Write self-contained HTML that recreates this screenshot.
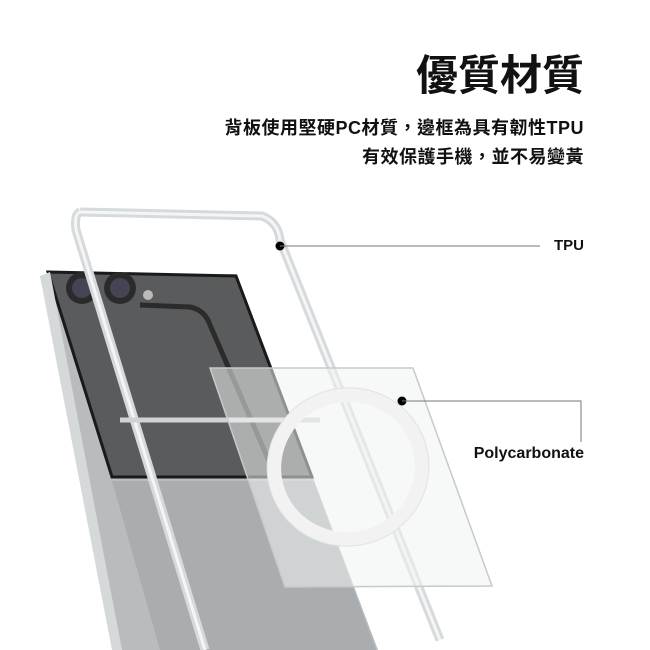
<!DOCTYPE html>
<html><head><meta charset="utf-8"><style>
body{margin:0;width:650px;height:650px;background:#fff;overflow:hidden;position:relative;font-family:"Liberation Sans","Noto Sans CJK TC",sans-serif}
.t{position:absolute;right:66px;text-align:right;color:#111;font-weight:bold;white-space:nowrap}
</style></head><body>
<div class="t" style="top:50px;font-size:42px;line-height:52px;letter-spacing:0px">優質材質</div>
<div class="t" style="top:116px;font-size:18px;line-height:24px;letter-spacing:0.5px">背板使用堅硬PC材質，邊框為具有韌性TPU</div>
<div class="t" style="top:145px;font-size:18px;line-height:24px;letter-spacing:0.5px">有效保護手機，並不易變黃</div>
<svg width="650" height="650" style="position:absolute;left:0;top:0">
<!-- phone body frame -->
<polygon points="40,276 236,274 378,650 122,650" fill="#b8bcbe"/>
<polygon points="48,272 236,276 312,477 112,477" fill="#5a5b5c" stroke="#1a1a1a" stroke-width="3"/>
<polygon points="112,481 314,481 376,650 160,650" fill="#a9adaf"/>
<polygon points="40,276 50,272 122,650 112,650" fill="#d6d9da"/>
<!-- cameras -->
<circle cx="82" cy="288" r="16" fill="#2a2a2a"/><circle cx="82" cy="288" r="10" fill="#445"/>
<circle cx="120" cy="288" r="16" fill="#2a2a2a"/><circle cx="120" cy="288" r="10" fill="#445"/>
<circle cx="148" cy="295" r="5" fill="#bbb"/>
<!-- inner raised frame -->
<path d="M140,305 L190,307 Q205,310 210,325 L275,475" fill="none" stroke="#2b2b2b" stroke-width="5"/>
<!-- TPU case -->
<path d="M80,212 L262,216 Q278,222 280,240 L440,640" fill="none" stroke="#d6dadc" stroke-width="9"/>
<path d="M80,212 Q74,214 76,230 L205,650" fill="none" stroke="#d6dadc" stroke-width="9"/>
<path d="M80,212 L262,216 Q278,222 280,240 L440,640" fill="none" stroke="#f4f5f5" stroke-width="3"/>
<path d="M80,212 Q74,214 76,230 L205,650" fill="none" stroke="#f4f5f5" stroke-width="3"/>
<line x1="120" y1="420" x2="320" y2="420" stroke="#d0d3d5" stroke-width="5"/>
<!-- PC plate -->
<polygon points="210,368 413,368 492,586 285,587" fill="rgba(240,242,243,0.55)" stroke="#c6cacc" stroke-width="1.5"/>
<ellipse cx="348" cy="467" rx="74" ry="72" fill="none" stroke="#f2f2f2" stroke-width="14" transform="rotate(-15 348 467)"/>
<ellipse cx="348" cy="467" rx="81" ry="79" fill="none" stroke="#e0e2e3" stroke-width="1" transform="rotate(-15 348 467)"/>
<!-- callouts -->
<circle cx="280" cy="246" r="4.5" fill="#000"/>
<line x1="280" y1="246" x2="540" y2="246" stroke="#777" stroke-width="1"/>
<circle cx="402" cy="401" r="4.5" fill="#000"/>
<polyline points="402,401 581,401 581,442" fill="none" stroke="#777" stroke-width="1"/>
</svg>
<div class="t" style="top:236px;font-size:15px;line-height:20px">TPU</div>
<div class="t" style="top:444px;font-size:16px;line-height:20px">Polycarbonate</div>
</body></html>
